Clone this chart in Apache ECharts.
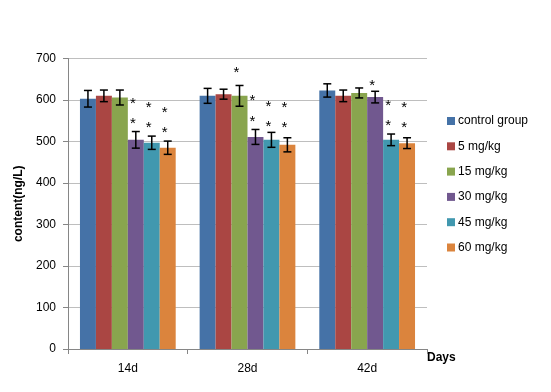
<!DOCTYPE html>
<html>
<head>
<meta charset="utf-8">
<script src="https://cdn.jsdelivr.net/npm/echarts@6/dist/echarts.min.js"></script>
<style>
html, body { margin: 0; padding: 0; background: #fff; }
#chart { width: 551px; height: 392px; }
</style>
</head>
<body>
<div id="chart"></div>
<script>
// 数据
var days = ['14d', '28d', '42d'];
var groups = ['control group', '5 mg/kg', '15 mg/kg', '30 mg/kg', '45 mg/kg', '60 mg/kg'];
var colors = ['#4572A7', '#AA4643', '#89A54E', '#71588F', '#4198AF', '#DB843D'];

// 每组在 14d / 28d / 42d 的均值
var control = [603, 610, 623];
var mg5 = [610, 614, 610];
var mg15 = [606, 610, 617];
var mg30 = [504, 511, 607];
var mg45 = [497, 504, 504];
var mg60 = [485, 492, 496];

// 误差（±）
var errControl = [20, 18, 16];
var errMg5 = [14, 12, 14];
var errMg15 = [18, 25, 12];
var errMg30 = [20, 18, 14];
var errMg45 = [16, 18, 14];
var errMg60 = [16, 17, 13];

// 星号: [天索引, 组索引, 纵坐标值]
var stars = [
    [0, 3, 600], [0, 3, 553], [0, 4, 590], [0, 4, 542], [0, 5, 578], [0, 5, 530],
    [1, 2, 675], [1, 3, 607], [1, 3, 557], [1, 4, 593], [1, 4, 545], [1, 5, 590], [1, 5, 542],
    [2, 3, 644], [2, 4, 596], [2, 4, 548], [2, 5, 590], [2, 5, 542]
];

var means = [control, mg5, mg15, mg30, mg45, mg60];
var errs = [errControl, errMg5, errMg15, errMg30, errMg45, errMg60];

var catGap = 0.2;   // barCategoryGap

function barCenter(api, cat, idx) {
    var band = api.size([1, 0])[0];
    var bw = band * (1 - catGap) / groups.length;
    var c = api.coord([cat, 0])[0];
    return c + (idx - (groups.length - 1) / 2) * bw;
}

var errData = [];
for (var g = 0; g < groups.length; g++) {
    for (var d = 0; d < days.length; d++) {
        errData.push([d, g, means[g][d], errs[g][d]]);
    }
}

var series = [];
for (var i = 0; i < groups.length; i++) {
    series.push({
        name: groups[i],
        type: 'bar',
        data: means[i],
        barGap: '0%',
        barCategoryGap: '20%',
        itemStyle: { color: colors[i] }
    });
}

series.push({
    type: 'custom',
    silent: true,
    z: 5,
    data: errData,
    renderItem: function (params, api) {
        var x = barCenter(api, api.value(0), api.value(1));
        var m = api.value(2), e = api.value(3);
        var yt = api.coord([0, m + e])[1];
        var yb = api.coord([0, m - e])[1];
        var cap = 4;
        var st = { stroke: '#000', lineWidth: 1.5 };
        return {
            type: 'group',
            children: [
                { type: 'line', shape: { x1: x, y1: yt, x2: x, y2: yb }, style: st },
                { type: 'line', shape: { x1: x - cap, y1: yt, x2: x + cap, y2: yt }, style: st },
                { type: 'line', shape: { x1: x - cap, y1: yb, x2: x + cap, y2: yb }, style: st }
            ]
        };
    }
});

series.push({
    type: 'custom',
    silent: true,
    z: 6,
    data: stars,
    renderItem: function (params, api) {
        var x = barCenter(api, api.value(0), api.value(1)) - 3;
        var y = api.coord([0, api.value(2)])[1];
        return {
            type: 'text',
            style: {
                x: x,
                y: y + 4,
                text: '*',
                fill: '#000',
                font: '15px "Liberation Sans"',
                align: 'center',
                verticalAlign: 'middle'
            }
        };
    }
});

var myChart = echarts.init(document.getElementById('chart'));
var option = {
    animation: false,
    textStyle: { fontFamily: 'Liberation Sans' },
    grid: {
        left: 68,
        right: 124,
        top: 58.5,
        bottom: 43
    },
    legend: {
        orient: 'vertical',
        left: 442,
        top: 109,
        itemWidth: 8,
        itemHeight: 8,
        itemGap: 11.3,
        icon: 'rect',
        data: groups,
        textStyle: { fontSize: 12, color: '#000', padding: [0, 0, 0, -2], lineHeight: 14 }
    },
    xAxis: {
        type: 'category',
        data: days,
        name: 'Days',
        nameLocation: 'end',
        nameGap: 0,
        nameTextStyle: {
            fontWeight: 'bold',
            fontSize: 12,
            color: '#000',
            align: 'left',
            verticalAlign: 'top',
            padding: [3, 0, 0, 0]
        },
        axisLine: { lineStyle: { color: '#868686' } },
        axisTick: { show: true, length: 5, lineStyle: { color: '#868686' } },
        axisLabel: { color: '#000', fontSize: 12, margin: 14 }
    },
    yAxis: {
        type: 'value',
        min: 0,
        max: 700,
        interval: 100,
        name: 'content(ng/L)',
        nameLocation: 'middle',
        nameGap: 42,
        nameTextStyle: { fontWeight: 'bold', fontSize: 12, color: '#000' },
        axisLine: { show: true, lineStyle: { color: '#868686' } },
        axisTick: { show: true, length: 5, lineStyle: { color: '#868686' } },
        axisLabel: { color: '#000', fontSize: 12, margin: 12 },
        splitLine: { lineStyle: { color: '#BEBEBE' } }
    },
    series: series
};
myChart.setOption(option);
</script>
</body>
</html>
